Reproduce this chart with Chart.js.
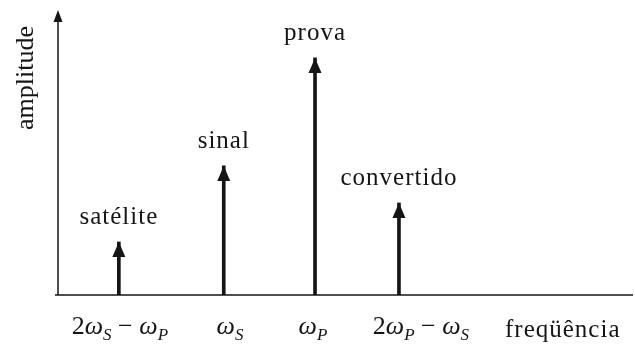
<!DOCTYPE html>
<html>
<head>
<meta charset="utf-8">
<script src="https://cdn.jsdelivr.net/npm/chart.js@4"></script>
<style>
  html, body { margin: 0; padding: 0; background: #fff; }
  #wrap { width: 635px; height: 349px; }
</style>
</head>
<body>
<div id="wrap"><canvas id="spectrum"></canvas></div>
<script>
// spectral lines: position on the frequency axis and height
const lineNames = ["satélite", "sinal", "prova", "convertido"];
const lineFreqs = [1.16, 3.16, 4.9, 6.5];
const lineAmps = [1.86, 4.53, 8.32, 3.23];
// "_" marks the next character as a subscript
const tickLabels = ["2ω_S − ω_P", "ω_S", "ω_P", "2ω_P − ω_S"];
const tickFreqs = [1.18, 3.28, 4.86, 6.92];
const xTitle = "freqüência";
const yTitle = "amplitude";

const INK = "#151515";
const SERIF = "'Liberation Serif', 'DejaVu Serif', serif";

const drawHead = (ctx, x, y, w, h) => {
    ctx.beginPath();
    ctx.moveTo(x, y);
    ctx.lineTo(x - w / 2, y + h);
    ctx.lineTo(x + w / 2, y + h);
    ctx.closePath();
    ctx.fill();
};

// writes a label like "2ω_S" with the subscripts lowered and smaller
const drawMath = (ctx, text, cx, baseY) => {
    const parts = [];
    for (let i = 0; i < text.length; i++) {
        if (text[i] === "_") {
            parts.push({ t: text[i + 1], sub: true });
            i++;
        } else {
            parts.push({ t: text[i], sub: false });
        }
    }
    const fontFor = (p) => {
        if (p.sub) return "italic 17px " + SERIF;
        if (/[0-9−\s]/.test(p.t)) return "26px " + SERIF;
        return "italic 26px " + SERIF;
    };
    let total = 0;
    parts.forEach(p => {
        ctx.font = fontFor(p);
        p.w = ctx.measureText(p.t).width;
        total += p.w;
    });
    let x = cx - total / 2;
    ctx.textAlign = "left";
    ctx.textBaseline = "alphabetic";
    parts.forEach(p => {
        ctx.font = fontFor(p);
        ctx.fillText(p.t, x, p.sub ? baseY + 6 : baseY);
        x += p.w;
    });
};

const spectrumDecor = {
    id: "spectrumDecor",
    afterDatasetsDraw(chart) {
        const ctx = chart.ctx;
        const xs = chart.scales.x;
        const ys = chart.scales.y;
        const area = chart.chartArea;
        ctx.save();
        ctx.fillStyle = INK;
        ctx.strokeStyle = INK;

        // y axis with its arrow
        ctx.lineWidth = 1.5;
        ctx.beginPath();
        ctx.moveTo(area.left, area.bottom);
        ctx.lineTo(area.left, area.top + 8);
        ctx.stroke();
        drawHead(ctx, area.left, area.top, 9, 12);

        // x axis
        ctx.beginPath();
        ctx.moveTo(area.left - 3, area.bottom);
        ctx.lineTo(area.right - 2, area.bottom);
        ctx.stroke();

        // arrowheads and names on each line
        ctx.font = "25px " + SERIF;
        ctx.letterSpacing = "1px";
        ctx.textAlign = "center";
        ctx.textBaseline = "alphabetic";
        lineFreqs.forEach((f, i) => {
            const px = xs.getPixelForValue(f);
            const py = ys.getPixelForValue(lineAmps[i]);
            drawHead(ctx, px, py, 13, 15);
            ctx.fillText(lineNames[i], px, py - 18);
        });

        // tick labels under the lines
        ctx.letterSpacing = "0px";
        tickFreqs.forEach((f, i) => {
            drawMath(ctx, tickLabels[i], xs.getPixelForValue(f), 334);
        });

        ctx.font = "25px " + SERIF;
        ctx.letterSpacing = "1px";
        ctx.textAlign = "left";
        ctx.fillText(xTitle, 505, 337);
        ctx.letterSpacing = "0px";

        // rotated axis name
        ctx.translate(33, 78);
        ctx.rotate(-Math.PI / 2);
        ctx.textAlign = "center";
        ctx.font = "26px " + SERIF;
        ctx.fillText(yTitle, 0, 0);
        ctx.restore();
    }
};

new Chart(document.getElementById("spectrum"), {
    type: "bar",
    data: {
        datasets: [{
            label: "espectro",
            data: lineFreqs.map((f, i) => ({ x: f, y: lineAmps[i] })),
            backgroundColor: INK,
            barThickness: 3,
            borderWidth: 0
        }]
    },
    options: {
        responsive: true,
        maintainAspectRatio: false,
        animation: false,
        layout: { padding: { left: 58, top: 10, right: 0, bottom: 54 } },
        plugins: { legend: { display: false }, tooltip: { enabled: false } },
        scales: {
            x: {
                type: "linear",
                offset: false,
                min: 0,
                max: 11,
                grid: { display: false, drawTicks: false },
                border: { display: false },
                ticks: { display: false }
            },
            y: {
                min: 0,
                max: 10,
                grid: { display: false, drawTicks: false },
                border: { display: false },
                ticks: { display: false }
            }
        }
    },
    plugins: [spectrumDecor]
});
</script>
</body>
</html>
